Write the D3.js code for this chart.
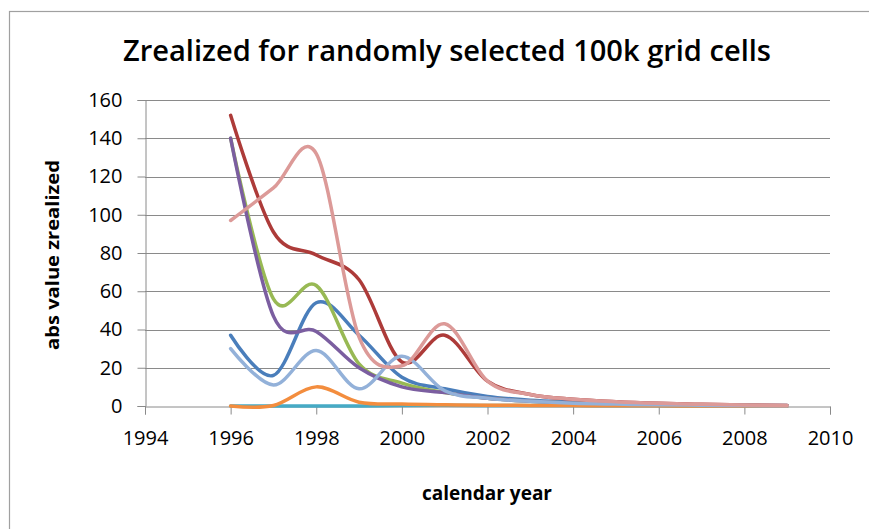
<!DOCTYPE html>
<html>
<head>
<meta charset="utf-8">
<script src="https://cdn.jsdelivr.net/npm/d3@7"></script>
<style>
  body { margin: 0; background: #fff; }
  text { font-family: "Open Sans", "DejaVu Sans", sans-serif; fill: #000; }
</style>
</head>
<body>
<script>
// years on the x axis (one point per year)
var years = [1996, 1997, 1998, 1999, 2000, 2001, 2002, 2003, 2004, 2005, 2006, 2007, 2008, 2009];

// series values
var blueVals   = [37, 16, 54, 37, 15, 9, 5, 3, 2, 1.2, 0.8, 0.5, 0.3, 0.2];
var redVals    = [152, 91, 79, 66, 23, 37, 13, 6, 3.5, 2.2, 1.4, 0.9, 0.5, 0.3];
var greenVals  = [140, 56, 63, 22, 12, 7, 4, 2.5, 1.5, 1, 0.6, 0.4, 0.2, 0.1];
var purpleVals = [140, 47, 39, 20, 10, 7, 4, 2.5, 1.5, 1, 0.6, 0.4, 0.2, 0.1];
var aquaVals   = [0, 0, 0, 0, 0.3, 0.4, 0.3, 0.2, 0.2, 0.1, 0.1, 0, 0, 0];
var orangeVals = [0, 0.3, 10, 2, 1, 0.6, 0.4, 0.3, 0.2, 0.1, 0.1, 0, 0, 0];
var lblueVals  = [30, 11, 29, 9, 26, 8, 4, 2.5, 1.5, 1, 0.6, 0.4, 0.2, 0.1];
var pinkVals   = [97, 114, 132, 36, 21, 43, 13, 6, 3.5, 2.2, 1.4, 0.9, 0.5, 0.3];

var seriesList = [
  {name: "blue",   values: blueVals,   color: "#4a7ebb"},
  {name: "red",    values: redVals,    color: "#ad3b39"},
  {name: "green",  values: greenVals,  color: "#98b954"},
  {name: "purple", values: purpleVals, color: "#7b5ea0"},
  {name: "aqua",   values: aquaVals,   color: "#46aac5"},
  {name: "orange", values: orangeVals, color: "#f38d3e"},
  {name: "lblue",  values: lblueVals,  color: "#93b1d9"},
  {name: "pink",   values: pinkVals,   color: "#dc9a98"}
];

var xTicks = [1994, 1996, 1998, 2000, 2002, 2004, 2006, 2008, 2010];
var yTicks = [0, 20, 40, 60, 80, 100, 120, 140, 160];

var width = 869, height = 529;

var svg = d3.select("body")
  .append("svg")
  .attr("width", width)
  .attr("height", height);

// chart frame
svg.append("rect")
  .attr("x", 9.5)
  .attr("y", 11.5)
  .attr("width", 900)
  .attr("height", 600)
  .attr("fill", "#fff")
  .attr("stroke", "#a0a0a0")
  .attr("stroke-width", 1.2);

var x = d3.scaleLinear().domain([1994, 2010]).range([145, 830]);
var y = d3.scaleLinear().domain([0, 160]).range([406, 100]);

// horizontal gridlines
svg.append("g")
  .selectAll("line")
  .data(yTicks.filter(function(d) { return d > 0; }))
  .enter().append("line")
    .attr("x1", x(1994))
    .attr("x2", x(2010))
    .attr("y1", function(d) { return Math.round(y(d)) + 0.5; })
    .attr("y2", function(d) { return Math.round(y(d)) + 0.5; })
    .attr("stroke", "#8a8a8a")
    .attr("stroke-width", 1);

// y axis
var yAxis = svg.append("g")
  .attr("transform", "translate(" + (x(1994) + 0.5) + ",0)")
  .call(d3.axisLeft(y).tickValues(yTicks).tickSize(8).tickPadding(15));
yAxis.select(".domain").attr("stroke", "#8a8a8a");
yAxis.selectAll(".tick line").attr("stroke", "#8a8a8a");
yAxis.selectAll(".tick text")
  .style("font-size", "20px")
  .style("font-weight", "500")
  .attr("fill", "#000");

// x axis
var xAxis = svg.append("g")
  .attr("transform", "translate(0," + (Math.round(y(0)) + 0.5) + ")")
  .call(d3.axisBottom(x).tickValues(xTicks).tickFormat(d3.format("d")).tickSize(8).tickPadding(16));
xAxis.select(".domain").attr("stroke", "#8a8a8a");
xAxis.selectAll(".tick line").attr("stroke", "#8a8a8a");
xAxis.selectAll(".tick text")
  .style("font-size", "20px")
  .style("font-weight", "500")
  .attr("fill", "#000");

// smoothed lines, like Excel's "smoothed line" option
var line = d3.line()
  .x(function(d) { return x(d[0]); })
  .y(function(d) { return y(d[1]); })
  .curve(d3.curveCardinal.tension(0));

svg.append("g")
  .selectAll("path")
  .data(seriesList)
  .enter().append("path")
    .attr("d", function(s) { return line(years.map(function(yr, i) { return [yr, s.values[i]]; })); })
    .attr("fill", "none")
    .attr("stroke", function(s) { return s.color; })
    .attr("stroke-width", 3.5)
    .attr("stroke-linejoin", "round")
    .attr("stroke-linecap", "round");

// title
svg.append("text")
  .attr("x", 447)
  .attr("y", 61)
  .attr("text-anchor", "middle")
  .attr("textLength", 648)
  .attr("lengthAdjust", "spacingAndGlyphs")
  .style("font-size", "29px")
  .style("font-weight", "600")
  .text("Zrealized for randomly  selected 100k grid cells");

// axis titles
svg.append("text")
  .attr("x", 487)
  .attr("y", 500)
  .attr("text-anchor", "middle")
  .attr("textLength", 130)
  .attr("lengthAdjust", "spacingAndGlyphs")
  .style("font-size", "19px")
  .style("font-weight", "bold")
  .text("calendar year");

svg.append("text")
  .attr("transform", "translate(59,255) rotate(-90)")
  .attr("text-anchor", "middle")
  .attr("textLength", 190)
  .attr("lengthAdjust", "spacingAndGlyphs")
  .style("font-size", "18px")
  .style("font-weight", "bold")
  .text("abs value zrealized");
</script>
</body>
</html>
